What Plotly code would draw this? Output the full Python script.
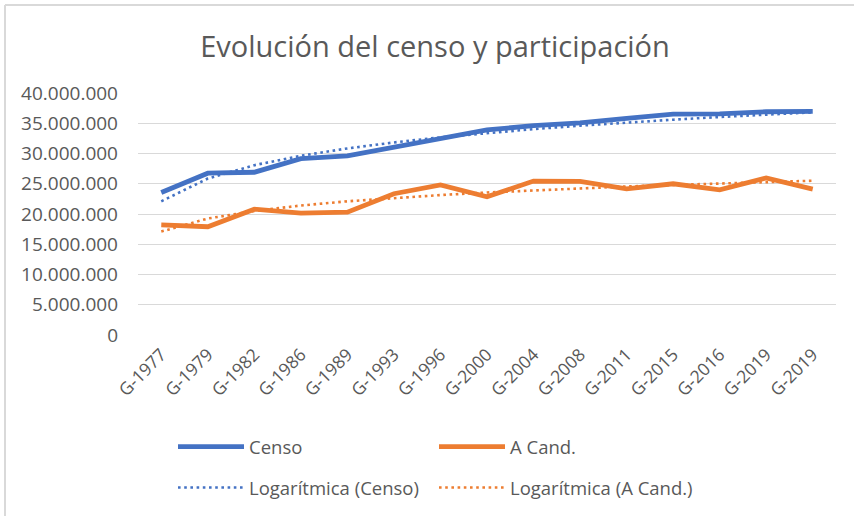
import plotly.graph_objects as go

categories = ["G-1977", "G-1979", "G-1982", "G-1986", "G-1989", "G-1993", "G-1996",
              "G-2000", "G-2004", "G-2008", "G-2011", "G-2015", "G-2016", "G-2019", "G-2019"]
censo = [23550000, 26750000, 26900000, 29150000, 29600000, 31050000, 32550000,
         33900000, 34600000, 35050000, 35800000, 36500000, 36550000, 36900000, 36950000]
a_cand = [18200000, 17900000, 20800000, 20150000, 20300000, 23350000, 24800000,
          22850000, 25450000, 25400000, 24150000, 25000000, 24000000, 25950000, 24100000]
log_censo = [22100000, 25860000, 28070000, 29630000, 30840000, 31830000, 32670000,
             33390000, 34030000, 34600000, 35120000, 35590000, 36030000, 36430000, 36800000]
log_a_cand = [17100000, 19250000, 20500000, 21400000, 22100000, 22650000, 23130000,
              23550000, 23900000, 24250000, 24550000, 24800000, 25050000, 25300000, 25500000]
y_ticks = [0, 5000000, 10000000, 15000000, 20000000, 25000000, 30000000, 35000000, 40000000]

W, H = 854, 516
ML, MR, MT, MB = 138, 18, 93, 181
PW, PH = W - ML - MR, H - MT - MB

def px_x(px):
    return (px - ML) / PW

def px_y(py):
    return (H - MB - py) / PH

def cx(px):
    return px / W

def cy(py):
    return 1 - py / H

BLUE = "#4472C4"
ORANGE = "#ED7D31"
TXT = "#595959"
GRID = "#D9D9D9"
FONT = "Open Sans"

xs = list(range(len(categories)))

fig = go.Figure()
fig.add_trace(go.Scatter(x=xs, y=censo, name="Censo", mode="lines",
                         line=dict(color=BLUE, width=4.8), legend="legend"))
fig.add_trace(go.Scatter(x=xs, y=a_cand, name="A Cand.", mode="lines",
                         line=dict(color=ORANGE, width=4.8), legend="legend2"))
fig.add_trace(go.Scatter(x=xs, y=log_censo, name="Logarítmica (Censo)", mode="lines",
                         line=dict(color=BLUE, width=2.6, dash="2.6px,3.6px"), legend="legend3"))
fig.add_trace(go.Scatter(x=xs, y=log_a_cand, name="Logarítmica (A Cand.)", mode="lines",
                         line=dict(color=ORANGE, width=2.6, dash="2.6px,3.6px"), legend="legend4"))

leg_common = dict(font=dict(family=FONT, size=18.5, color=TXT), bgcolor="rgba(0,0,0,0)",
                  itemwidth=66, xanchor="left", yanchor="middle", orientation="v",
                  borderwidth=0, xref="container", yref="container")

fig.update_layout(
    width=W, height=H,
    margin=dict(l=ML, r=MR, t=MT, b=MB, autoexpand=False),
    paper_bgcolor="white", plot_bgcolor="white",
    separators=",.",
    title=dict(text="Evolución del censo y participación", x=435 / W, xref="container",
               xanchor="center", y=1 - 47 / H, yref="container", yanchor="middle",
               font=dict(family=FONT, size=29, color=TXT)),
    xaxis=dict(range=[-0.5, len(categories) - 0.5], tickvals=xs, ticktext=categories,
               tickangle=-45, showgrid=False, zeroline=False, showline=False, ticks="",
               ticklabelstandoff=5,
               tickfont=dict(family=FONT, size=17.5, color=TXT)),
    yaxis=dict(range=[0, 40000000], tickvals=y_ticks, tickformat=",d",
               showgrid=True, gridcolor=GRID, gridwidth=1.2, zeroline=False,
               showline=False, ticks="", ticklabelstandoff=19,
               tickfont=dict(family=FONT, size=19, color=TXT)),
    legend=dict(x=cx(173), y=cy(447), **leg_common),
    legend2=dict(x=cx(434), y=cy(447), **leg_common),
    legend3=dict(x=cx(173), y=cy(488), **leg_common),
    legend4=dict(x=cx(434), y=cy(488), **leg_common),
    shapes=[
        dict(type="line", xref="paper", yref="paper", x0=px_x(5), x1=px_x(W),
             y0=px_y(5), y1=px_y(5), line=dict(color=GRID, width=2)),
        dict(type="line", xref="paper", yref="paper", x0=px_x(5), x1=px_x(5),
             y0=px_y(5), y1=px_y(H), line=dict(color=GRID, width=2)),
    ],
    showlegend=True,
)

fig.write_html("out.html", config={"displayModeBar": False},
               post_script="document.body.style.margin='0';")
